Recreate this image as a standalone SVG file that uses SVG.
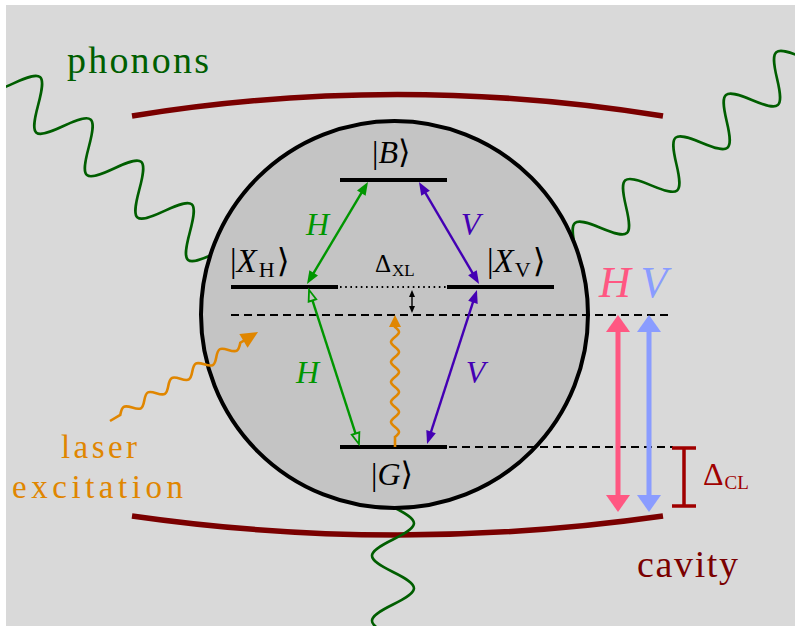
<svg xmlns="http://www.w3.org/2000/svg" width="795" height="626" viewBox="0 0 795 626">
<defs>
<style>
text{font-family:"Liberation Serif","DejaVu Serif",serif;}
.it{font-style:italic;}
.lvl{stroke:#000;stroke-width:4;fill:none;}
.dash{stroke:#000;stroke-width:2;stroke-dasharray:8 5;fill:none;}
.dot{stroke:#000;stroke-width:2;stroke-dasharray:1.6 3.6;fill:none;}
.phon{stroke:#005e00;stroke-width:2.6;fill:none;}
.mir{stroke:#7a0000;stroke-width:5.5;fill:none;}
.orw{stroke:#e08600;stroke-width:2.6;fill:none;}
</style>
<clipPath id="bgclip"><rect x="6" y="5" width="789" height="621"/></clipPath>
<marker id="hG" markerUnits="userSpaceOnUse" markerWidth="13" markerHeight="10" refX="7" refY="5" orient="auto-start-reverse" overflow="visible"><path d="M0,0 L13,5 L0,10 z" fill="#009600"/></marker>
<marker id="hP" markerUnits="userSpaceOnUse" markerWidth="13" markerHeight="10" refX="7" refY="5" orient="auto-start-reverse" overflow="visible"><path d="M0,0 L13,5 L0,10 z" fill="#4400b4"/></marker>
<marker id="hGo" markerUnits="userSpaceOnUse" markerWidth="13" markerHeight="10" refX="6" refY="5" orient="auto-start-reverse" overflow="visible"><path d="M1,1 L12,5 L1,9 z" fill="#c4c4c4" stroke="#009600" stroke-width="1.8"/></marker>
<marker id="hK" markerUnits="userSpaceOnUse" markerWidth="7" markerHeight="6" refX="3" refY="3" orient="auto-start-reverse" overflow="visible"><path d="M0,0 L7,3 L0,6 z" fill="#000"/></marker>
<marker id="hPk" markerUnits="userSpaceOnUse" markerWidth="17" markerHeight="24" refX="9" refY="12" orient="auto-start-reverse" overflow="visible"><path d="M0,0 L17,12 L0,24 z" fill="#ff5782"/></marker>
<marker id="hB" markerUnits="userSpaceOnUse" markerWidth="17" markerHeight="24" refX="9" refY="12" orient="auto-start-reverse" overflow="visible"><path d="M0,0 L17,12 L0,24 z" fill="#8a9cff"/></marker>
<marker id="hO" markerUnits="userSpaceOnUse" markerWidth="12" markerHeight="12" refX="2" refY="6" orient="auto" overflow="visible"><path d="M0,0 L12,6 L0,12 z" fill="#e08600"/></marker>
<marker id="hL" markerUnits="userSpaceOnUse" markerWidth="17" markerHeight="16" refX="3" refY="8" orient="auto" overflow="visible"><path d="M0,0 L17,8 L0,16 z" fill="#e08600"/></marker>
</defs>

<rect id="background" x="6" y="5" width="789" height="621" fill="#d9d9d9"/>

<g id="cavity-mirrors">
<path class="mir" d="M132,116 Q397,73 663,116"/>
<path class="mir" d="M132,516 Q397,554 663,516"/>
</g>

<g id="phonons-waves" clip-path="url(#bgclip)">
<path class="phon" transform="translate(12.9,83.6) rotate(40)" d="M-33,0 c14,30 19,30 33,0 c14,-30 19,-30 33,0 c14,30 19,30 33,0 c14,-30 19,-30 33,0 c14,30 19,30 33,0 c14,-30 19,-30 33,0 c14,30 19,30 33,0 c14,-30 19,-30 33,0 c14,30 19,30 33,0"/>
<path class="phon" transform="translate(575.7,249.4) rotate(-40.3)" d="M-3,0 L0,0 c14,-27.5 19,-27.5 33,0 c14,27.5 19,27.5 33,0 c14,-27.5 19,-27.5 33,0 c14,27.5 19,27.5 33,0 c14,-27.5 19,-27.5 33,0 c14,27.5 19,27.5 33,0 c14,-27.5 19,-27.5 33,0 c14,27.5 19,27.5 33,0 c14,-27.5 19,-27.5 33,0 c14,27.5 19,27.5 33,0"/>
<path class="phon" transform="translate(393,507) rotate(90)" d="M0,0 c13.8,-28 18.7,-28 32.5,0 c13.8,28 18.7,28 32.5,0 c13.8,-28 18.7,-28 32.5,0 c13.8,28 18.7,28 32.5,0"/>
</g>

<g id="quantum-dot">
<circle cx="394.5" cy="314.5" r="193.5" fill="#c4c4c4" stroke="#000" stroke-width="4"/>
</g>

<g id="guides">
<line class="dot" x1="340" y1="287" x2="446" y2="287"/>
<line class="dash" x1="231" y1="315" x2="668" y2="315"/>
<line class="dash" x1="449" y1="447" x2="673" y2="447"/>
</g>

<g id="level-B"><line class="lvl" x1="340" y1="180" x2="447" y2="180"/>
<text x="372" y="163" font-size="32">|<tspan class="it">B</tspan>⟩</text></g>
<g id="level-XH"><line class="lvl" x1="231" y1="287" x2="338" y2="287"/>
<text x="230" y="272" font-size="33">|<tspan class="it">X</tspan><tspan font-size="22" dx="2" dy="5">H</tspan><tspan dx="2" dy="-5">⟩</tspan></text></g>
<g id="level-XV"><line class="lvl" x1="447" y1="287" x2="554" y2="287"/>
<text x="487" y="272" font-size="33">|<tspan class="it">X</tspan><tspan font-size="22" dx="1" dy="5">V</tspan><tspan dx="2" dy="-5">⟩</tspan></text></g>
<g id="level-G"><line class="lvl" x1="340" y1="447" x2="447" y2="447"/>
<text x="371" y="485" font-size="32">|<tspan class="it">G</tspan>⟩</text></g>

<g id="connectors">
<line x1="310.1" y1="278.9" x2="364.9" y2="187.1" stroke="#009600" stroke-width="2.4" marker-start="url(#hG)" marker-end="url(#hG)"/>
<line x1="422.0" y1="187.2" x2="476.0" y2="278.8" stroke="#4400b4" stroke-width="2.4" marker-start="url(#hP)" marker-end="url(#hP)"/>
<line x1="310.9" y1="295.7" x2="357.1" y2="438.3" stroke="#009600" stroke-width="2.4" marker-start="url(#hGo)" marker-end="url(#hGo)"/>
<line x1="475.1" y1="295.7" x2="428.9" y2="438.3" stroke="#4400b4" stroke-width="2.4" marker-start="url(#hP)" marker-end="url(#hP)"/>
<line x1="412" y1="294" x2="412" y2="309" stroke="#000" stroke-width="1.4" marker-start="url(#hK)" marker-end="url(#hK)"/>
<path class="orw" marker-end="url(#hO)" d="M395,447 V437 c5.33,-4.24 5.33,-5.76 0,-10 c-5.33,-4.24 -5.33,-5.76 0,-10 c5.33,-4.24 5.33,-5.76 0,-10 c-5.33,-4.24 -5.33,-5.76 0,-10 c5.33,-4.24 5.33,-5.76 0,-10 c-5.33,-4.24 -5.33,-5.76 0,-10 c5.33,-4.24 5.33,-5.76 0,-10 c-5.33,-4.24 -5.33,-5.76 0,-10 c5.33,-4.24 5.33,-5.76 0,-10 c-5.33,-4.24 -5.33,-5.76 0,-10 c5.33,-4.24 5.33,-5.76 0,-10 V325"/>
<path class="orw" stroke-width="3.2" marker-end="url(#hL)" transform="translate(110,421) rotate(-31)" d="M0,0 L12,0 c5.94,-6.67 8.06,-6.67 14,0 c5.94,6.67 8.06,6.67 14,0 c5.94,-6.67 8.06,-6.67 14,0 c5.94,6.67 8.06,6.67 14,0 c5.94,-6.67 8.06,-6.67 14,0 c5.94,6.67 8.06,6.67 14,0 c5.94,-6.67 8.06,-6.67 14,0 c5.94,6.67 8.06,6.67 14,0 c5.94,-6.67 8.06,-6.67 14,0 c5.94,6.67 8.06,6.67 14,0 L158.7,0"/>
<line x1="618" y1="323" x2="618" y2="504" stroke="#ff5782" stroke-width="5" marker-start="url(#hPk)" marker-end="url(#hPk)"/>
<line x1="649" y1="323" x2="649" y2="504" stroke="#8a9cff" stroke-width="5" marker-start="url(#hB)" marker-end="url(#hB)"/>
<path d="M672,448 H696 M684,448 V506 M672,506 H696" stroke="#a00000" stroke-width="3.5" fill="none"/>
</g>

<g id="labels">
<text x="67" y="73" font-size="38" fill="#005e00" textLength="142" lengthAdjust="spacing">phonons</text>
<text x="61" y="458" font-size="33" fill="#e08600" textLength="76" lengthAdjust="spacing">laser</text>
<text x="12" y="498" font-size="33" fill="#e08600" textLength="171" lengthAdjust="spacing">excitation</text>
<text x="637" y="577" font-size="38" fill="#7a0000" textLength="101" lengthAdjust="spacing">cavity</text>
<text x="375" y="272" font-size="25">Δ<tspan font-size="17" dx="1" dy="4">XL</tspan></text>
<text x="703" y="485" font-size="32" fill="#a00000">Δ<tspan font-size="19" dx="1" dy="4">CL</tspan></text>
<text class="it" x="317.5" y="235" font-size="32" fill="#009600" text-anchor="middle">H</text>
<text class="it" x="470.5" y="235" font-size="32" fill="#4400b4" text-anchor="middle">V</text>
<text class="it" x="307.5" y="383" font-size="32" fill="#009600" text-anchor="middle">H</text>
<text class="it" x="475.5" y="383" font-size="32" fill="#4400b4" text-anchor="middle">V</text>
<text class="it" x="615" y="297" font-size="44" fill="#ff5782" text-anchor="middle">H</text>
<text class="it" x="654" y="297" font-size="44" fill="#8a9cff" text-anchor="middle">V</text>
</g>
</svg>
